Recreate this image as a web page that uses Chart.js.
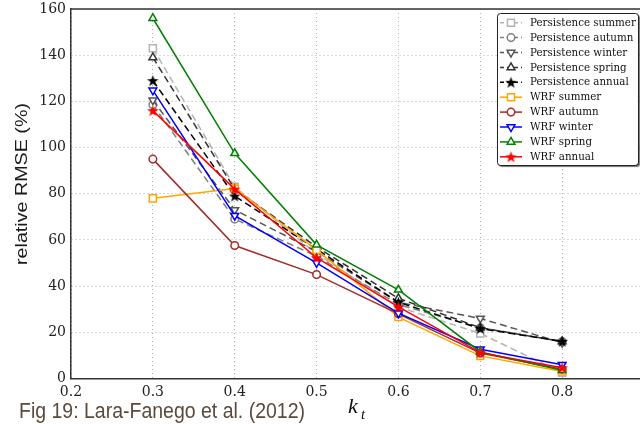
<!DOCTYPE html>
<html><head><meta charset="utf-8">
<script src="https://cdn.jsdelivr.net/npm/chart.js@4.4.0/dist/chart.umd.min.js"></script>
<style>
html,body{margin:0;padding:0;background:#fff;overflow:hidden;width:640px;height:424px}
#wrap{position:absolute;left:0;top:0;width:660px;height:424px}
</style>
</head><body><div id="wrap"><canvas id="c" width="660" height="424"></canvas></div>
<script>
// ---- data ----
const kt = [0.3, 0.4, 0.5, 0.6, 0.7, 0.8];
const xTicks = [0.2, 0.3, 0.4, 0.5, 0.6, 0.7, 0.8, 0.9];
const yTicks = [0, 20, 40, 60, 80, 100, 120, 140, 160];
const seriesNames = ["Persistence summer","Persistence autumn","Persistence winter","Persistence spring","Persistence annual",
                     "WRF summer","WRF autumn","WRF winter","WRF spring","WRF annual"];
const persSummer = [143, 83, 54, 31, 19.5, 2.5];
const persAutumn = [118.5, 69, 53, 32, 22, 16];
const persWinter = [120.5, 73, 55, 33, 26, 15.5];
const persSpring = [139, 82, 57, 34.7, 22, 16];
const persAnnual = [129, 79, 56, 33, 21.6, 16.1];
const wrfSummer = [78, 82.3, 55.7, 26.6, 9.8, 3];
const wrfAutumn = [95, 57.6, 45, 28, 11, 4];
const wrfWinter = [124.8, 70.5, 50.1, 28.3, 12.7, 6];
const wrfSpring = [156, 97.5, 57.9, 38.4, 11.5, 3.6];
const wrfAnnual = [116, 82, 52.3, 31, 11.2, 4.7];

function starImg(color){
  const s = 13, c = document.createElement('canvas');
  c.width = s; c.height = s;
  const g = c.getContext('2d');
  g.fillStyle = color; g.beginPath();
  for (let i = 0; i < 10; i++) {
    const r = i % 2 ? 2.5 : 6, a = -Math.PI/2 + i*Math.PI/5;
    g.lineTo(s/2 + r*Math.cos(a), s/2 + r*Math.sin(a) + 0.6);
  }
  g.closePath(); g.fill();
  return c;
}

const styles = [
  {c:'#b4b4b4', p:'rect', r:5, rot:0, d:true},
  {c:'#7f7f7f', p:'circle', r:3.8, rot:0, d:true},
  {c:'#555555', p:'triangle', r:4.5, rot:180, d:true},
  {c:'#333333', p:'triangle', r:4.5, rot:0, d:true},
  {c:'#000000', p:starImg('#000'), r:5, rot:0, d:true},
  {c:'#ffa500', p:'rect', r:5, rot:0, d:false},
  {c:'#a52a2a', p:'circle', r:3.8, rot:0, d:false},
  {c:'#0000ff', p:'triangle', r:4.5, rot:180, d:false},
  {c:'#008000', p:'triangle', r:4.5, rot:0, d:false},
  {c:'#ff0000', p:starImg('#f00'), r:5, rot:0, d:false}
];
const allData = [persSummer, persAutumn, persWinter, persSpring, persAnnual,
                 wrfSummer, wrfAutumn, wrfWinter, wrfSpring, wrfAnnual];

const datasets = allData.map((arr, i) => {
  const s = styles[i];
  return {
    label: seriesNames[i],
    data: kt.map((x, j) => ({x: x, y: arr[j]})),
    borderColor: s.c, backgroundColor: '#fff',
    pointBackgroundColor: '#fff', pointBorderColor: s.c,
    pointStyle: s.p, pointRotation: s.rot, pointRadius: s.r, pointHoverRadius: s.r,
    pointBorderWidth: 1.5, borderWidth: 1.5,
    borderDash: s.d ? [7, 4] : [],
    tension: 0, fill: false,
    order: 20 - i
  };
});

function fitText(ctx, text, x, y, target){
  const w = ctx.measureText(text).width;
  const sx = target / w;
  ctx.save(); ctx.translate(x, y); ctx.scale(sx, 1);
  ctx.fillText(text, 0, 0); ctx.restore();
}

const decor = {
  id: 'decor',
  beforeDatasetsDraw(chart){
    const {ctx, chartArea: a} = chart;
    ctx.save();
    ctx.strokeStyle = '#333'; ctx.lineWidth = 1.5;
    ctx.beginPath(); ctx.moveTo(a.left, a.top); ctx.lineTo(a.right + 2, a.top); ctx.stroke();
    ctx.restore();
  },
  afterDraw(chart){
    const ctx = chart.ctx;
    ctx.save();
    // legend box
    const bx = 497, by = 13, bw = 141, bh = 152;
    ctx.save();
    ctx.shadowColor = 'rgba(0,0,0,0.55)'; ctx.shadowOffsetX = 2; ctx.shadowOffsetY = 2; ctx.shadowBlur = 1;
    ctx.fillStyle = '#fff';
    ctx.beginPath(); ctx.roundRect(bx, by, bw, bh, 3); ctx.fill();
    ctx.restore();
    ctx.strokeStyle = '#222'; ctx.lineWidth = 1;
    ctx.beginPath(); ctx.roundRect(bx + 0.5, by + 0.5, bw, bh, 3); ctx.stroke();
    chart.data.datasets.forEach((d, i) => {
      const y = 22.7 + i * 14.9;
      ctx.save();
      ctx.strokeStyle = d.borderColor; ctx.lineWidth = 1.5;
      ctx.setLineDash(d.borderDash.length ? [4, 3] : []);
      ctx.beginPath(); ctx.moveTo(500, y); ctx.lineTo(522, y); ctx.stroke();
      ctx.setLineDash([]);
      ctx.fillStyle = '#fff'; ctx.strokeStyle = d.borderColor;
      Chart.helpers.drawPoint(ctx, {pointStyle: d.pointStyle, rotation: d.pointRotation,
        radius: d.pointRadius, borderWidth: 1.5}, 511, y);
      ctx.restore();
      ctx.fillStyle = '#111'; ctx.font = "10.3px 'DejaVu Serif'";
      ctx.textBaseline = 'middle'; ctx.textAlign = 'left';
      ctx.fillText(d.label, 530, y + 0.5);
    });
    // y title
    ctx.save();
    ctx.translate(22, 184); ctx.rotate(-Math.PI/2);
    ctx.font = "17px 'Liberation Sans', Arial, sans-serif"; ctx.fillStyle = '#1a1a1a';
    ctx.textAlign = 'left'; ctx.textBaseline = 'middle';
    const t = 'relative RMSE (%)';
    const w = ctx.measureText(t).width, sx = 162 / w;
    ctx.scale(sx, 1); ctx.fillText(t, -w/2, 0);
    ctx.restore();
    // x title k_t
    ctx.fillStyle = '#111';
    ctx.textBaseline = 'alphabetic'; ctx.textAlign = 'left';
    ctx.font = "italic 22px 'Liberation Serif', serif";
    ctx.fillText('k', 348, 413);
    ctx.font = "italic 15px 'Liberation Serif', serif";
    ctx.fillText('t', 361, 419);
    // caption
    ctx.fillStyle = '#5a4a3c';
    ctx.font = "22px 'Liberation Sans Narrow', 'Liberation Sans', sans-serif";
    fitText(ctx, 'Fig 19: Lara-Fanego et al. (2012)', 19, 418, 286);
    ctx.restore();
  }
};

new Chart(document.getElementById('c'), {
  type: 'line',
  data: {datasets},
  options: {
    responsive: false, animation: false,
    layout: {padding: {top: 9, left: 0, right: 16, bottom: 0}},
    plugins: {legend: {display: false}, tooltip: {enabled: false}},
    scales: {
      x: {
        type: 'linear', min: 0.2, max: 0.9,
        afterBuildTicks: s => { s.ticks = xTicks.map(v => ({value: v})); },
        afterFit: s => { s.height = 45.5; s.paddingLeft = 0; s.paddingRight = 0; },
        ticks: {
          padding: 5, color: '#222', font: {family: "'DejaVu Serif'", size: 14},
          callback: v => (Math.abs(v - 0.9) < 1e-6 ? '' : Number(v).toFixed(1)),
          maxRotation: 0, autoSkip: false
        },
        grid: {color: '#b0b0b0', lineWidth: 1, drawTicks: false},
        border: {display: true, color: '#333', width: 1.5, dash: [1, 3]}
      },
      y: {
        type: 'linear', min: 0, max: 160,
        afterBuildTicks: s => { s.ticks = yTicks.map(v => ({value: v})); },
        afterFit: s => { s.width = 71; s.paddingTop = 0; s.paddingBottom = 0; },
        ticks: {padding: 5, color: '#222', font: {family: "'DejaVu Serif'", size: 14}},
        grid: {color: '#b0b0b0', lineWidth: 1, drawTicks: false},
        border: {display: true, color: '#333', width: 1.5, dash: [1, 3]}
      }
    }
  },
  plugins: [decor]
});
</script>
</body></html>
